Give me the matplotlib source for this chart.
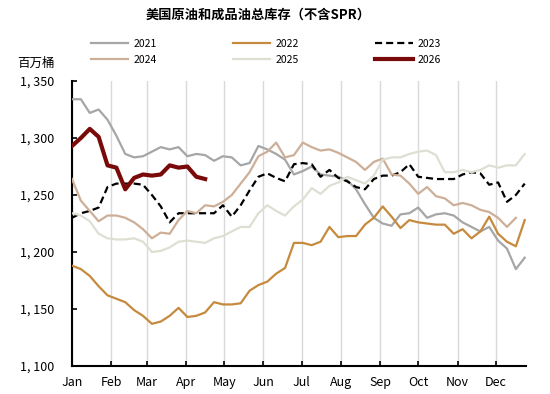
import numpy as np
import matplotlib
matplotlib.use("Agg")
import matplotlib.pyplot as plt

plt.rcParams["font.family"] = ["Noto Sans CJK SC", "DejaVu Sans"]

# weekly inventory, million barrels (crude + products, ex SPR)
inv_2021 = [1334, 1334, 1322, 1325, 1316, 1302, 1286, 1283, 1284, 1288, 1292, 1290, 1292,
            1284, 1286, 1285, 1280, 1284, 1283, 1276, 1278, 1293, 1290, 1286, 1281, 1268,
            1271, 1275, 1268, 1267, 1266, 1263, 1255, 1242, 1230, 1225, 1223, 1233, 1234,
            1239, 1230, 1233, 1234, 1232, 1226, 1222, 1218, 1222, 1210, 1203, 1185, 1195]
inv_2022 = [1188, 1185, 1179, 1170, 1162, 1159, 1156, 1149, 1144, 1137, 1139, 1144, 1151,
            1143, 1144, 1147, 1156, 1154, 1154, 1155, 1166, 1171, 1174, 1181, 1186, 1208,
            1208, 1206, 1209, 1222, 1213, 1214, 1214, 1224, 1230, 1240, 1231, 1221, 1228,
            1226, 1225, 1224, 1224, 1216, 1220, 1212, 1218, 1231, 1216, 1209, 1205, 1228]
inv_2023 = [1230, 1234, 1236, 1239, 1257, 1260, 1260, 1260, 1259, 1250, 1240, 1226, 1234,
            1234, 1234, 1234, 1234, 1241, 1231, 1241, 1254, 1266, 1269, 1265, 1262, 1277,
            1278, 1277, 1266, 1272, 1265, 1262, 1257, 1255, 1264, 1267, 1267, 1270, 1277,
            1266, 1265, 1264, 1264, 1264, 1268, 1270, 1269, 1259, 1261, 1244, 1250, 1260]
inv_2024 = [1264, 1245, 1236, 1227, 1232, 1232, 1230, 1226, 1220, 1212, 1217, 1216, 1228,
            1236, 1234, 1241, 1240, 1244, 1250, 1260, 1270, 1284, 1288, 1296, 1283, 1285,
            1296, 1292, 1289, 1290, 1287, 1283, 1279, 1272, 1279, 1282, 1268, 1267, 1260,
            1251, 1257, 1249, 1247, 1241, 1243, 1241, 1237, 1235, 1230, 1222, 1230]
inv_2025 = [1234, 1232, 1227, 1216, 1212, 1211, 1211, 1212, 1209, 1200, 1201, 1204, 1209,
            1210, 1209, 1208, 1212, 1214, 1218, 1222, 1222, 1234, 1241, 1236, 1232, 1240,
            1246, 1256, 1251, 1258, 1261, 1266, 1263, 1260, 1267, 1281, 1283, 1283, 1286,
            1288, 1289, 1285, 1270, 1270, 1272, 1270, 1272, 1276, 1274, 1276, 1276, 1286]
inv_2026 = [1293, 1300, 1308, 1301, 1276, 1274, 1255, 1265, 1268, 1267, 1268, 1276, 1274,
            1275, 1266, 1264]

month_labels = ["Jan", "Feb", "Mar", "Apr", "May", "Jun",
                "Jul", "Aug", "Sep", "Oct", "Nov", "Dec"]
month_start_day = [0, 31, 59, 90, 120, 151, 181, 212, 243, 273, 304, 334]
y_ticks = [1100, 1150, 1200, 1250, 1300, 1350]

series = [
    ("2021", inv_2021, dict(color="#a6a6a6", lw=1.6)),
    ("2022", inv_2022, dict(color="#c68a3e", lw=1.6)),
    ("2023", inv_2023, dict(color="black", lw=1.6, ls=(0, (3.2, 1.8)))),
    ("2024", inv_2024, dict(color="#cdaf98", lw=1.6)),
    ("2025", inv_2025, dict(color="#dedfd3", lw=1.6)),
    ("2026", inv_2026, dict(color="#7a0a0a", lw=3.0)),
]

fig = plt.figure(figsize=(5.5, 3.94), dpi=100)
ax = fig.add_axes([72 / 550, 1 - 366 / 394, 454 / 550, 285 / 394])

lines = {}
for name, vals, style in series:
    days = np.arange(len(vals)) * 7
    ln, = ax.plot(days, vals, label=name, zorder=3, **style)
    lines[name] = ln

ax.set_xlim(0, 358)
ax.set_ylim(1100, 1350)
ax.set_xticks(month_start_day)
ax.set_xticklabels(month_labels)
ax.set_yticks(y_ticks)
ax.set_yticklabels([f"{v:,}".replace(",", ", ") for v in y_ticks])
ax.grid(axis="x", color="#d9d9d9", lw=1.0, zorder=0)
ax.tick_params(direction="in", length=3.5, width=1.2, labelsize=9, colors="black")
ax.tick_params(axis="y", pad=13)
ax.tick_params(axis="x", pad=7)
for side in ("top", "right"):
    ax.spines[side].set_visible(False)
for side in ("left", "bottom"):
    ax.spines[side].set_linewidth(1.5)

fig.text(258 / 550, 1 - 15 / 394, "美国原油和成品油总库存（不含SPR）",
         ha="center", va="center", fontsize=9.5, fontweight="bold")
fig.text(17 / 550, 1 - 63 / 394, "百万桶", ha="left", va="center", fontsize=9)

order = ["2021", "2024", "2022", "2025", "2023", "2026"]
fig.legend([lines[n] for n in order], order, ncol=3, loc="center",
           bbox_to_anchor=(266 / 550, 1 - 52 / 394), frameon=False, fontsize=7.5,
           handlelength=3.6, handletextpad=0.5, columnspacing=7.3, labelspacing=0.6)

fig.savefig("out.png", dpi=100)
